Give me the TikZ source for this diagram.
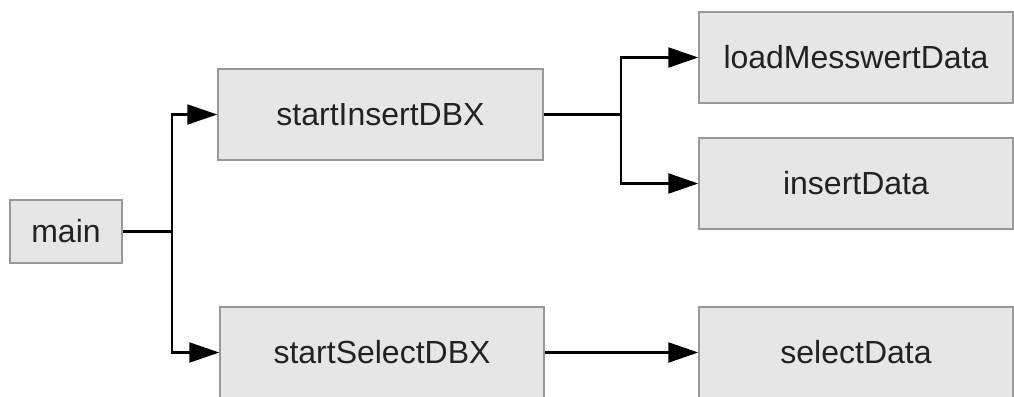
\documentclass[tikz,border=0pt]{standalone}
\usepackage{fontspec}
\setmainfont{Liberation Sans}
\usetikzlibrary{arrows.meta}
\definecolor{boxfill}{HTML}{E6E6E6}
\definecolor{boxline}{HTML}{999999}
\definecolor{txt}{HTML}{222222}
\begin{document}
\begin{tikzpicture}[x=1pt,y=-1pt,
  fnbox/.style={draw=boxline, fill=boxfill, line width=1.5pt, inner sep=0pt,
    text=txt, font=\fontsize{32}{38}\selectfont, minimum height=91pt},
  conn/.style={draw=black, line width=2.2pt},
  arr/.style={conn, -{Triangle[length=30pt,width=20pt]}}]
\useasboundingbox (0,0) rectangle (1014,396);
\clip (0,0) rectangle (1014,396);
\node[fnbox, minimum width=112pt, minimum height=63pt] (main) at (66,231.5) {main};
\node[fnbox, minimum width=325pt] (ins) at (380.5,114.5) {startInsertDBX};
\node[fnbox, minimum width=324pt] (sel) at (382,352.5) {startSelectDBX};
\node[fnbox, minimum width=314pt] (load) at (856,57.5) {loadMesswertData};
\node[fnbox, minimum width=314pt] (insd) at (856,183.5) {insertData};
\node[fnbox, minimum width=314pt] (seld) at (856,352.5) {selectData};
\coordinate (f1) at (172,231.5);
\coordinate (f2) at (621,114.5);
\draw[conn] (main.east) -- (f1);
\draw[arr] (f1) |- (ins.west);
\draw[arr] (f1) |- (sel.west);
\draw[conn] (ins.east) -- (f2);
\draw[arr] (f2) |- (load.west);
\draw[arr] (f2) |- (insd.west);
\draw[arr] (sel.east) -- (seld.west);
\end{tikzpicture}
\end{document}
